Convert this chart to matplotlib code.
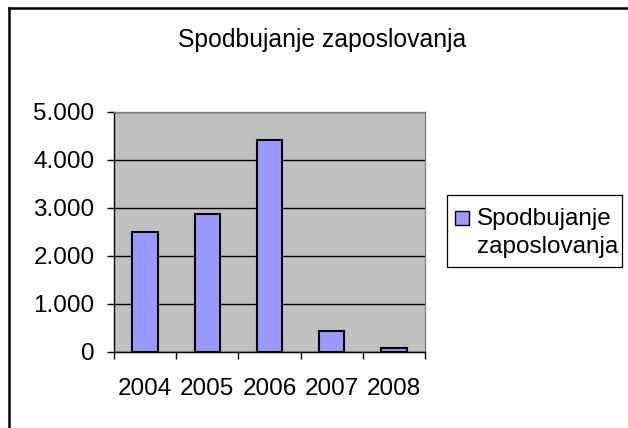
import matplotlib.pyplot as plt
from matplotlib.patches import Rectangle
from matplotlib.lines import Line2D
from matplotlib.ticker import FuncFormatter

plt.rcParams['font.family'] = ['Liberation Sans', 'DejaVu Sans']

TITLE = "Spodbujanje zaposlovanja"
years = ["2004", "2005", "2006", "2007", "2008"]
values = [2507, 2868, 4410, 444, 77]
y_ticks = [0, 1000, 2000, 3000, 4000, 5000]

BAR_COLOR = "#9999FF"
PLOT_BG = "#C0C0C0"
FS = 17.5

W, H = 628, 428
fig = plt.figure(figsize=(W / 100, H / 100), dpi=100)


def px(x, y):
    # pixel position (top-left origin) to figure fraction
    return x / W, 1 - y / H


ax = fig.add_axes([114 / W, 1 - 352 / H, 311 / W, 240 / H])
ax.set_facecolor(PLOT_BG)
xs = list(range(len(years)))
ax.bar(xs, values, width=0.41, color=BAR_COLOR, edgecolor="black", linewidth=1.5, zorder=3)

ax.set_xlim(-0.5, len(years) - 0.5)
ax.set_ylim(0, 5000)
ax.set_yticks(y_ticks)
ax.yaxis.set_major_formatter(FuncFormatter(lambda v, p: f"{int(v):,}".replace(",", ".")))
ax.grid(axis="y", color="black", linewidth=1.0, zorder=1)
ax.set_axisbelow(True)

ax.set_xticks(xs)
ax.set_xticklabels(years)
ax.set_xticks([i - 0.5 for i in range(len(years) + 1)], minor=True)
ax.tick_params(axis="x", which="major", length=0, pad=19, labelsize=FS)
ax.tick_params(axis="x", which="minor", length=5, width=1, direction="out")
ax.tick_params(axis="y", length=5, width=1, direction="out", pad=9, labelsize=FS)

for side in ["top", "right"]:
    ax.spines[side].set_color("#808080")
    ax.spines[side].set_linewidth(1.0)
for side in ["left", "bottom"]:
    ax.spines[side].set_color("black")
    ax.spines[side].set_linewidth(1.0)

# title
fig.text(*px(322, 47), TITLE, ha="center", va="baseline", fontsize=17.8)

# outer frame (only top and left edges visible)
fig.add_artist(Line2D([9 / W, 9 / W], [0, 1 - 8 / H], color="black", linewidth=1.8,
                      transform=fig.transFigure))
fig.add_artist(Line2D([9 / W, 1], [1 - 8 / H, 1 - 8 / H], color="black", linewidth=1.8,
                      transform=fig.transFigure))

# legend
lx0, ly0 = px(447, 267)
fig.add_artist(Rectangle((lx0, ly0), 175 / W, 72 / H, transform=fig.transFigure,
                         facecolor="white", edgecolor="black", linewidth=0.9))
sx0, sy0 = px(455, 225)
fig.add_artist(Rectangle((sx0, sy0), 14 / W, 14 / H, transform=fig.transFigure,
                         facecolor=BAR_COLOR, edgecolor="black", linewidth=1.0))
label_lines = TITLE.split(" ")
fig.text(*px(477, 225), label_lines[0], ha="left", va="baseline", fontsize=FS)
fig.text(*px(477, 253), label_lines[1], ha="left", va="baseline", fontsize=FS)

fig.savefig("out.png", dpi=100)
